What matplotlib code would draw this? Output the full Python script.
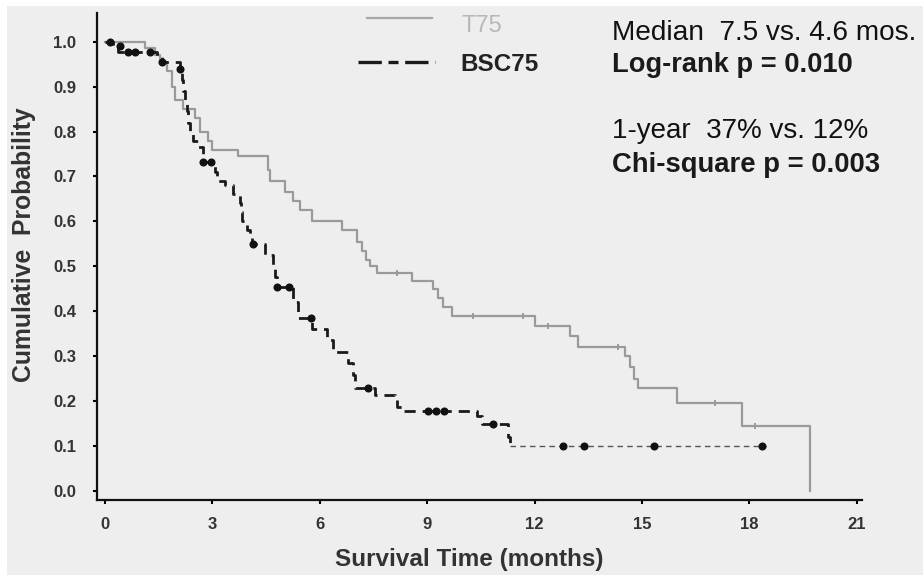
import matplotlib
matplotlib.use("Agg")
import matplotlib.pyplot as plt
from matplotlib.lines import Line2D
from matplotlib.patches import Rectangle

plt.rcParams['font.family'] = ['Liberation Sans', 'DejaVu Sans']

# ---------------- data ----------------
# T75 Kaplan-Meier: event times (months) and survival after each step
t75_t = [0, 1.12, 1.40, 1.54, 1.73, 1.87, 1.96, 2.18, 2.51, 2.65, 2.88, 2.99,
         3.72, 4.55, 4.62, 5.03, 5.25, 5.45, 5.78, 6.62, 7.04, 7.18, 7.29, 7.40,
         7.60, 8.58, 9.16, 9.30, 9.44, 9.69, 12.01, 12.99, 13.21, 14.53, 14.66,
         14.78, 14.89, 15.98, 17.79, 19.69]
t75_s = [1.0, 0.985, 0.97, 0.955, 0.935, 0.90, 0.87, 0.85, 0.83, 0.80, 0.78, 0.76,
         0.745, 0.715, 0.69, 0.665, 0.645, 0.625, 0.60, 0.58, 0.555, 0.535, 0.515, 0.50,
         0.485, 0.467, 0.45, 0.43, 0.41, 0.39, 0.367, 0.345, 0.32, 0.30, 0.275,
         0.25, 0.23, 0.196, 0.145, 0.0]
t75_cens_t = [8.16, 10.28, 11.68, 12.37, 14.33, 17.04, 18.16]
t75_cens_s = [0.485, 0.39, 0.39, 0.367, 0.32, 0.196, 0.145]

# BSC75 Kaplan-Meier
bsc_t = [0, 0.22, 0.36, 1.45, 1.59, 2.09, 2.14, 2.18, 2.23, 2.28, 2.32, 2.37, 2.46,
         2.60, 2.74, 3.07, 3.13, 3.35, 3.58, 3.77, 3.80, 3.83, 3.97, 4.05, 4.11,
         4.47, 4.69, 4.75, 4.80, 5.25, 5.39, 5.78, 6.20, 6.37, 6.79, 6.93, 6.98,
         7.54, 8.10, 8.16, 8.32, 10.39, 10.53, 11.26, 11.31]
bsc_s = [1.0, 0.99, 0.978, 0.965, 0.955, 0.94, 0.915, 0.89, 0.87, 0.845, 0.82, 0.80, 0.78,
         0.765, 0.733, 0.71, 0.69, 0.68, 0.66, 0.64, 0.62, 0.60, 0.58, 0.57, 0.55,
         0.525, 0.50, 0.477, 0.455, 0.42, 0.385, 0.36, 0.337, 0.31, 0.285, 0.258, 0.23,
         0.214, 0.207, 0.187, 0.178, 0.167, 0.15, 0.12, 0.10]
bsc_end = 18.45
bsc_cens_t = [0.14, 0.42, 0.64, 0.84, 1.26, 1.59, 2.09, 2.74, 2.95, 4.13, 4.80, 5.14,
              5.75, 7.35, 9.02, 9.25, 9.47, 10.85, 12.78, 13.38, 15.34, 18.35]
bsc_cens_s = [1.0, 0.99, 0.978, 0.978, 0.978, 0.955, 0.94, 0.733, 0.733, 0.55, 0.455, 0.455,
              0.385, 0.23, 0.178, 0.178, 0.178, 0.15, 0.10, 0.10, 0.10, 0.10]

x_ticks = [0, 3, 6, 9, 12, 15, 18, 21]
y_ticks = [0.0, 0.1, 0.2, 0.3, 0.4, 0.5, 0.6, 0.7, 0.8, 0.9, 1.0]

series_names = ["T75", "BSC75"]
stats_lines = ["Median  7.5 vs. 4.6 mos.", "Log-rank p = 0.010",
               "1-year  37% vs. 12%", "Chi-square p = 0.003"]

# ---------------- figure ----------------
W, H = 923, 575
fig = plt.figure(figsize=(W / 100, H / 100), dpi=100, facecolor='white')
def fx(px): return px / W
def fy(py): return 1 - py / H

bg = '#eeeeee'
fig.patches.append(Rectangle((fx(7), 0), 1 - fx(7), fy(6), transform=fig.transFigure,
                             facecolor=bg, edgecolor='none', zorder=-10))

ax = fig.add_axes([fx(97), fy(500), fx(862) - fx(97), fy(13) - fy(500)])
ax.set_facecolor('none')

ax.step(t75_t, t75_s, where='post', color='#9a9a9a', lw=1.6, zorder=3)
ax.plot(t75_cens_t, t75_cens_s, ls='none', marker='|', ms=5, mew=1.4,
        color='#9a9a9a', zorder=3)

ax.step(bsc_t, bsc_s, where='post', color='#1a1a1a', lw=2.0,
        ls=(0, (4, 2.5)), zorder=4)
ax.plot([bsc_t[-1], bsc_end], [bsc_s[-1], bsc_s[-1]], color='#555555', lw=1.0,
        ls=(0, (4, 3)), zorder=4)
ax.plot(bsc_cens_t, bsc_cens_s, ls='none', marker='o', ms=4.8, color='#111111',
        zorder=5)

ax.set_xlim((97 - 105) / 35.8, (862 - 105) / 35.8)
ax.set_ylim((491 - 500) / 449.3, (491 - 13) / 449.3)
ax.set_xticks(x_ticks)
ax.set_yticks(y_ticks)
ax.set_yticklabels([f"{v:.1f}" for v in y_ticks])
for s in ['top', 'right']:
    ax.spines[s].set_visible(False)
for s in ['left', 'bottom']:
    ax.spines[s].set_linewidth(1.6)
    ax.spines[s].set_color('#111111')
ax.tick_params(axis='y', length=3, width=1.5, pad=12, labelsize=12, labelcolor='#333333')
ax.tick_params(axis='x', length=3, width=1.5, pad=9, labelsize=12, labelcolor='#333333')
for lab in ax.get_xticklabels() + ax.get_yticklabels():
    lab.set_fontweight('bold')

fig.text(fx(469), fy(566), "Survival Time (months)", ha='center', va='baseline',
         fontsize=17.5, fontweight='bold', color='#333333')
fig.text(fx(24), fy(245), "Cumulative  Probability", ha='center', va='center',
         rotation=90, fontsize=17.8, fontweight='bold', color='#333333')

# legend
fig.lines.append(Line2D([fx(367), fx(432)], [fy(18), fy(18)], transform=fig.transFigure,
                        color='#a8a8a8', lw=1.6))
fig.lines.append(Line2D([fx(358), fx(435)], [fy(62), fy(62)], transform=fig.transFigure,
                        color='#1a1a1a', lw=2.4, ls=(0, (7, 2, 3, 2))))
fig.text(fx(462), fy(32), series_names[0], ha='left', va='baseline', fontsize=17,
         color='#b8b8b8')
fig.text(fx(460), fy(71), series_names[1], ha='left', va='baseline', fontsize=17.5,
         fontweight='bold', color='#222222')

# stats text
fig.text(fx(612), fy(40), stats_lines[0], ha='left', va='baseline', fontsize=20.2,
         color='#111111')
fig.text(fx(612), fy(72), stats_lines[1], ha='left', va='baseline', fontsize=19.6,
         fontweight='bold', color='#1a1a1a')
fig.text(fx(612), fy(138), stats_lines[2], ha='left', va='baseline', fontsize=20.0,
         color='#111111')
fig.text(fx(612), fy(172), stats_lines[3], ha='left', va='baseline', fontsize=19.8,
         fontweight='bold', color='#1a1a1a')

fig.savefig("out.png", dpi=100, facecolor=fig.get_facecolor())
